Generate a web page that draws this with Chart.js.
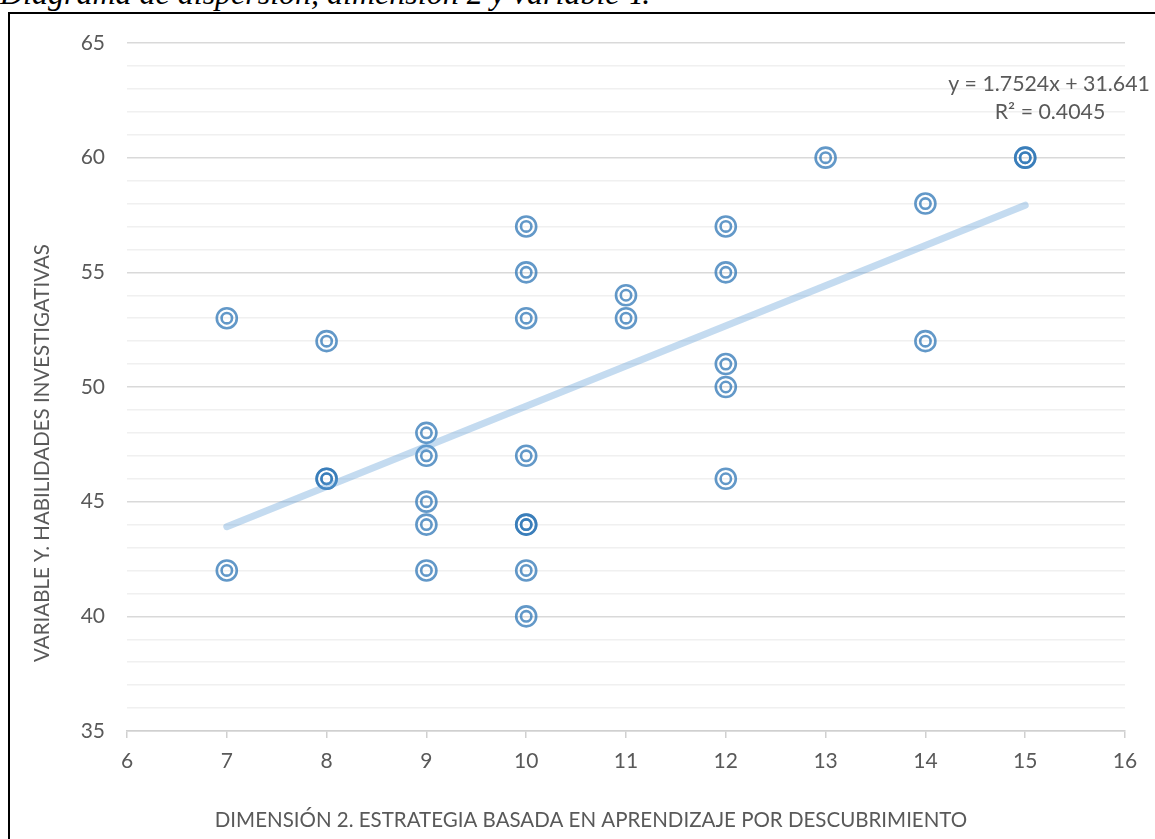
<!DOCTYPE html>
<html>
<head>
<meta charset="utf-8">
<script src="https://cdn.jsdelivr.net/npm/chart.js@4.4.1/dist/chart.umd.min.js"></script>
<style>
  html, body { margin: 0; padding: 0; background: #fff; overflow: hidden; }
  #caption { position: absolute; left: 0; top: -23px; font: italic 32px "Liberation Serif", "Times New Roman", serif; line-height: 32px; white-space: nowrap; color: #000; }
  #frame { position: absolute; left: 8px; top: 12px; width: 1300px; height: 1000px; border: 2px solid #000; }
  #scatter { position: absolute; left: 0; top: 0; }
</style>
</head>
<body>
<div id="caption">Diagrama de dispersión, dimensión 2 y variable Y.</div>
<div id="frame"></div>
<canvas id="scatter" width="1155" height="839"></canvas>
<script>
// one entry per respondent (repeated pairs overlap on the chart)
const dimension2 = [7, 7, 8, 8, 8, 9, 9, 9, 9, 9, 10, 10, 10, 10, 10, 10, 10, 10, 11, 11, 12, 12, 12, 12, 12, 13, 14, 14, 15, 15];
const variableY = [53, 42, 52, 46, 46, 48, 47, 45, 44, 42, 57, 55, 53, 47, 44, 44, 42, 40, 54, 53, 57, 55, 51, 50, 46, 60, 58, 52, 60, 60];

// linear trend printed on the chart
const trendSlope = 1.7524;
const trendIntercept = 31.641;
const trendRange = [7, 15];
const trendLabels = ['y = 1.7524x + 31.641', 'R² = 0.4045'];

const xTitle = 'DIMENSIÓN 2. ESTRATEGIA BASADA EN APRENDIZAJE POR DESCUBRIMIENTO';
const yTitle = 'VARIABLE Y. HABILIDADES INVESTIGATIVAS';

const points = dimension2.map((x, i) => ({ x: x, y: variableY[i] }));
const trendPoints = trendRange.map(x => ({ x: x, y: trendSlope * x + trendIntercept }));

const textColor = '#595959';
const markerColor = 'rgba(46, 117, 182, 0.75)';
const fontFamily = 'Lato';

// axis titles and the trend label, where Excel put them
const labelsPlugin = {
    id: 'labels',
    afterDraw(chart) {
        const ctx = chart.ctx;
        ctx.save();
        ctx.fillStyle = textColor;
        ctx.textAlign = 'center';
        ctx.textBaseline = 'middle';
        ctx.font = '21.3px ' + fontFamily;
        ctx.fillText(trendLabels[0], 1049, 84);
        ctx.fillText(trendLabels[1], 1050, 112);
        ctx.font = '20.5px ' + fontFamily;
        ctx.fillText(xTitle, 591, 820);
        ctx.translate(42, 453);
        ctx.rotate(-Math.PI / 2);
        ctx.fillText(yTitle, 0, 0);
        ctx.restore();
    }
};

new Chart(document.getElementById('scatter'), {
    type: 'scatter',
    data: {
        datasets: [
            {
                label: 'Tendencia',
                type: 'line',
                data: trendPoints,
                borderColor: 'rgba(91, 155, 213, 0.36)',
                borderWidth: 7,
                borderCapStyle: 'round',
                pointRadius: 0,
                order: 0
            },
            {
                label: 'Variable Y',
                data: points,
                pointRadius: 10,
                borderWidth: 2.6,
                borderColor: markerColor,
                backgroundColor: 'transparent',
                order: 1
            },
            {
                label: 'Variable Y (interior)',
                data: points,
                pointRadius: 5.2,
                borderWidth: 2.6,
                borderColor: markerColor,
                backgroundColor: 'transparent',
                order: 1
            }
        ]
    },
    options: {
        responsive: false,
        animation: false,
        devicePixelRatio: 1,
        layout: { padding: { top: 43, right: 30, left: 0, bottom: 0 } },
        plugins: {
            legend: { display: false },
            tooltip: { enabled: false }
        },
        scales: {
            x: {
                type: 'linear',
                min: 6,
                max: 16,
                ticks: { stepSize: 1, padding: 11, color: textColor, font: { family: fontFamily, size: 21 } },
                grid: { drawOnChartArea: false, drawTicks: true, tickLength: 7, color: '#d0d0d0', lineWidth: 1.5 },
                border: { color: '#d0d0d0', width: 1.5 },
                afterFit: scale => { scale.height = 108; }
            },
            y: {
                type: 'linear',
                min: 35,
                max: 65,
                ticks: {
                    stepSize: 1,
                    autoSkip: false,
                    padding: 22,
                    color: textColor,
                    font: { family: fontFamily, size: 21 },
                    callback: v => (v % 5 === 0 ? v : '')
                },
                grid: {
                    drawTicks: false,
                    color: ctx => (ctx.tick.value % 5 === 0 ? '#d9d9d9' : '#f0f0f0'),
                    lineWidth: 1.5
                },
                border: { display: false },
                afterFit: scale => { scale.width = 127; }
            }
        }
    },
    plugins: [labelsPlugin]
});
</script>
</body>
</html>
